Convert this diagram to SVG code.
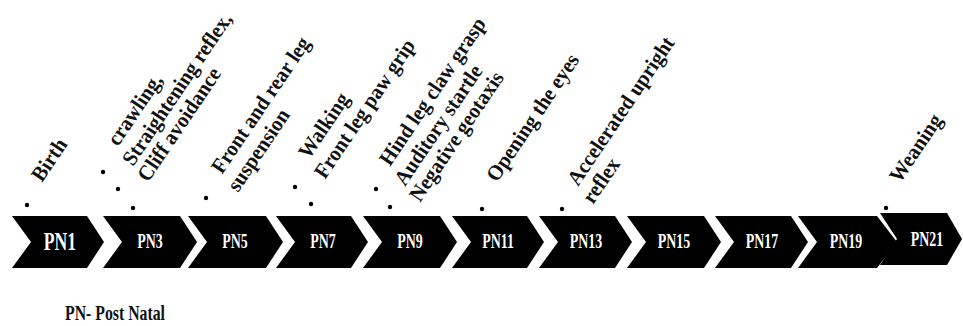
<svg xmlns="http://www.w3.org/2000/svg" width="963" height="326" viewBox="0 0 963 326">
<style>
.bg{fill:#fff}
.chev{fill:#000}
.pn{font-family:"Liberation Serif","Times New Roman",serif;font-weight:bold;font-size:20.5px;fill:#fff;text-anchor:middle}
.pn1{font-size:26px}
.lab{font-family:"Liberation Serif","Times New Roman",serif;font-weight:bold;font-size:21.5px;fill:#111}
.dot{fill:#000}
.note{font-family:"Liberation Serif","Times New Roman",serif;font-weight:bold;font-size:21px;fill:#111}
</style>
<rect class="bg" x="0" y="0" width="963" height="326"/>
<g id="connectors"></g>
<g id="pn1"><path class="chev" d="M12,216 H87 L104,242 L87,268 H12 L31,242 Z"/><text class="pn pn1" transform="translate(60,250) scale(0.68,1)">PN1</text></g>
<g id="pn3"><path class="chev" d="M103,216 H180 L197,242 L180,268 H103 L122,242 Z"/><text class="pn" transform="translate(150,248) scale(0.68,1)">PN3</text></g>
<g id="pn5"><path class="chev" d="M188,216 H266 L283,242 L266,268 H188 L207,242 Z"/><text class="pn" transform="translate(235,248) scale(0.68,1)">PN5</text></g>
<g id="pn7"><path class="chev" d="M276,216 H351 L368,242 L351,268 H276 L295,242 Z"/><text class="pn" transform="translate(323,248) scale(0.68,1)">PN7</text></g>
<g id="pn9"><path class="chev" d="M363,216 H440 L457,242 L440,268 H363 L382,242 Z"/><text class="pn" transform="translate(410,248) scale(0.68,1)">PN9</text></g>
<g id="pn11"><path class="chev" d="M452,216 H527 L544,242 L527,268 H452 L471,242 Z"/><text class="pn" transform="translate(498,248) scale(0.68,1)">PN11</text></g>
<g id="pn13"><path class="chev" d="M539,216 H615 L632,242 L615,268 H539 L558,242 Z"/><text class="pn" transform="translate(586,248) scale(0.68,1)">PN13</text></g>
<g id="pn15"><path class="chev" d="M627,216 H704 L721,242 L704,268 H627 L646,242 Z"/><text class="pn" transform="translate(674,248) scale(0.68,1)">PN15</text></g>
<g id="pn17"><path class="chev" d="M715,216 H791 L808,242 L791,268 H715 L734,242 Z"/><text class="pn" transform="translate(762,248) scale(0.68,1)">PN17</text></g>
<g id="pn19"><path class="chev" d="M798,216 H877 L897,242 L877,268 H798 L817,242 Z"/><text class="pn" transform="translate(846,248) scale(0.68,1)">PN19</text></g>
<g id="pn21"><path class="chev" d="M880,213 H947 L962,239 L947,265 H880 L897,239 Z"/><text class="pn" transform="translate(927,246) scale(0.68,1)">PN21</text></g>
<g id="labels">
<text class="lab" transform="translate(42,183) rotate(-56) scale(0.95,1)">Birth</text>
<text class="lab" transform="translate(118,147) rotate(-56) scale(0.95,1)">crawling,</text>
<text class="lab" transform="translate(133,167) rotate(-56) scale(0.95,1)">Straightening reflex,</text>
<text class="lab" transform="translate(148,183) rotate(-56) scale(0.95,1)">Cliff avoidance</text>
<text class="lab" transform="translate(222,175) rotate(-56) scale(0.95,1)">Front and rear leg</text>
<text class="lab" transform="translate(238,193) rotate(-56) scale(0.95,1)">suspension</text>
<text class="lab" transform="translate(309,160) rotate(-56) scale(0.95,1)">Walking</text>
<text class="lab" transform="translate(325,180) rotate(-56) scale(0.95,1)">Front leg paw grip</text>
<text class="lab" transform="translate(390,167) rotate(-56) scale(0.95,1)">Hind leg claw grasp</text>
<text class="lab" transform="translate(405,187) rotate(-56) scale(0.95,1)">Auditory startle</text>
<text class="lab" transform="translate(420,203) rotate(-56) scale(0.95,1)">Negative geotaxis</text>
<text class="lab" transform="translate(497,183) rotate(-56) scale(0.95,1)">Opening the eyes</text>
<text class="lab" transform="translate(578,187) rotate(-56) scale(0.95,1)">Accelerated upright</text>
<text class="lab" transform="translate(593,205) rotate(-56) scale(0.95,1)">reflex</text>
<text class="lab" transform="translate(900,184) rotate(-56) scale(0.95,1)">Weaning</text>
</g>
<g id="dots">
<circle class="dot" cx="27" cy="205" r="2.2"/>
<circle class="dot" cx="103" cy="172" r="2.2"/>
<circle class="dot" cx="118" cy="189" r="2.2"/>
<circle class="dot" cx="133" cy="208" r="2.2"/>
<circle class="dot" cx="206" cy="198" r="2.2"/>
<circle class="dot" cx="295" cy="187" r="2.2"/>
<circle class="dot" cx="311" cy="204" r="2.2"/>
<circle class="dot" cx="376" cy="189" r="2.2"/>
<circle class="dot" cx="390" cy="207" r="2.2"/>
<circle class="dot" cx="482" cy="209" r="2.2"/>
<circle class="dot" cx="562" cy="209" r="2.2"/>
<circle class="dot" cx="886" cy="208" r="2.2"/>
</g>
<text id="legend" class="note" x="65" y="320" textLength="100" lengthAdjust="spacingAndGlyphs">PN- Post Natal</text>
</svg>
